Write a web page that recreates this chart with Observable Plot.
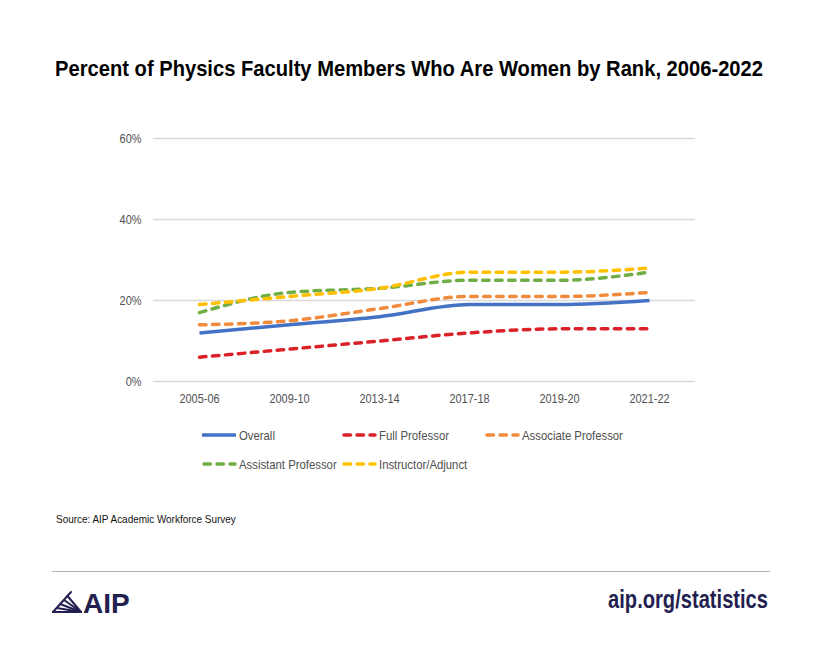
<!DOCTYPE html>
<html>
<head>
<meta charset="utf-8">
<script src="https://cdn.jsdelivr.net/npm/d3@7"></script>
<script src="https://cdn.jsdelivr.net/npm/@observablehq/plot@0.6"></script>
<style>
  html, body { margin: 0; padding: 0; background: #fff; }
  #page { position: relative; width: 820px; height: 651px; overflow: hidden; background: #fff; }
  #chart { position: absolute; left: 0; top: 0; }
  #overlay { position: absolute; left: 0; top: 0; }
  #rule { position: absolute; left: 52px; top: 571px; width: 718px; height: 0; border-top: 1.5px solid #b4b4b4; }
</style>
</head>
<body>
<div id="page">
  <div id="chart"></div>
  <div id="rule"></div>
  <svg id="overlay" width="820" height="651"></svg>
</div>
<script>
const titleText = "Percent of Physics Faculty Members Who Are Women by Rank, 2006-2022";
const sourceText = "Source: AIP Academic Workforce Survey";
const urlText = "aip.org/statistics";

const periods = ["2005-06", "2009-10", "2013-14", "2017-18", "2019-20", "2021-22"];
const overall    = [12, 14, 16, 19, 19, 20];
const full       = [6, 8, 10, 12, 13, 13];
const associate  = [14, 15, 18, 21, 21, 22];
const assistant  = [17, 22, 23, 25, 25, 27];
const instructor = [19, 21, 23, 27, 27, 28];
const yTicks = [0, 20, 40, 60];

const seriesNames  = ["Overall", "Full Professor", "Associate Professor", "Assistant Professor", "Instructor/Adjunct"];
const seriesValues = [overall, full, associate, assistant, instructor];
const seriesColors = ["#4472C4", "#DA2128", "#F08A3C", "#70AD47", "#FFC000"];
const seriesDashed = [false, true, true, true, true];

const FONT = "'Liberation Sans', Arial, sans-serif";
const NARROW = 0.84;

const rows = [];
seriesNames.forEach((name, i) => {
  periods.forEach((p, j) => rows.push({series: name, period: p, value: seriesValues[i][j]}));
});

const lineMarks = seriesNames.map((name, i) =>
  Plot.line(rows.filter(d => d.series === name), {
    x: "period", y: "value",
    stroke: seriesColors[i], strokeWidth: 3.5,
    strokeDasharray: seriesDashed[i] ? "6.5,6.5" : null,
    strokeLinecap: seriesDashed[i] ? "round" : "butt",
    curve: "monotone-x"
  })
);

const chart = Plot.plot({
  width: 820,
  height: 420,
  marginLeft: 153,
  marginRight: 125,
  marginTop: 138,
  marginBottom: 39,
  style: {fontFamily: FONT, fontSize: "13.5px", color: "#505050", background: "transparent"},
  x: {type: "point", domain: periods, padding: 0.5, label: null, tickSize: 0, tickPadding: 12},
  y: {domain: [0, 60], ticks: yTicks, tickFormat: d => d + "%", label: null, tickSize: 0, tickPadding: 12},
  marks: [
    Plot.ruleY(yTicks, {stroke: "#d9d9d9", strokeWidth: 1.3}),
    ...lineMarks
  ]
});
document.getElementById("chart").appendChild(chart);

// narrow the tick labels to mimic the condensed original typeface
function condense(sel, factor) {
  sel.each(function() {
    const w = this.getComputedTextLength();
    this.setAttribute("textLength", (w * factor).toFixed(1));
    this.setAttribute("lengthAdjust", "spacingAndGlyphs");
  });
}
condense(d3.select(chart).selectAll("g[aria-label$='tick label'] text"), 0.81);

// overlay: title, legend, source, footer
const ov = d3.select("#overlay");

// fit a text horizontally to a target width by scaling its group
function fitText(x, y, anchor, targetWidth, attrs, str) {
  const g = ov.append("g");
  const t = g.append("text").attr("text-anchor", anchor).text(str);
  Object.entries(attrs).forEach(([k, v]) => t.attr(k, v));
  const w = t.node().getComputedTextLength();
  g.attr("transform", `translate(${x},${y}) scale(${targetWidth / w},1)`);
  return t;
}

fitText(409, 76, "middle", 708,
  {"font-family": FONT, "font-weight": "bold", "font-size": 22.5, "fill": "#000"}, titleText);

// legend
const legendPos = [[202, 435], [342, 435], [485, 435], [202, 464], [342, 464]];
seriesNames.forEach((name, i) => {
  const [lx, ly] = legendPos[i];
  const g = ov.append("g");
  g.append("line")
    .attr("x1", seriesDashed[i] ? lx + 2 : lx).attr("x2", seriesDashed[i] ? lx + 33 : lx + 34)
    .attr("y1", ly).attr("y2", ly)
    .attr("stroke", seriesColors[i]).attr("stroke-width", 3.5)
    .attr("stroke-dasharray", seriesDashed[i] ? "6.5,6.5" : null)
    .attr("stroke-linecap", seriesDashed[i] ? "round" : "butt");
  const t = g.append("text")
    .attr("x", lx + 37).attr("y", ly + 5)
    .attr("font-family", FONT).attr("font-size", 13.5).attr("fill", "#505050")
    .text(name);
  condense(t, NARROW);
});

fitText(56, 522.5, "start", 180,
  {"font-family": FONT, "font-size": 10.3, "fill": "#111"}, sourceText);

// AIP logo
const logo = ov.append("g").attr("transform", "translate(50,586)");
const rays = [[21, 6, 3, 26], [31, 26, 3, 26], [31, 26, 7, 22], [31, 26, 10, 18], [31, 26, 14, 14], [31, 26, 17.5, 10]];
logo.selectAll("line").data(rays).join("line")
  .attr("x1", d => d[0]).attr("y1", d => d[1]).attr("x2", d => d[2]).attr("y2", d => d[3])
  .attr("stroke", "#231f50").attr("stroke-width", 2).attr("stroke-linecap", "round");
logo.append("text")
  .attr("x", 33).attr("y", 26.5)
  .attr("font-family", FONT).attr("font-weight", "bold").attr("font-size", 28)
  .attr("fill", "#231f50")
  .text("AIP");

fitText(768, 608, "end", 160,
  {"font-family": FONT, "font-weight": "bold", "font-size": 25, "fill": "#231f50"}, urlText);
</script>
</body>
</html>
